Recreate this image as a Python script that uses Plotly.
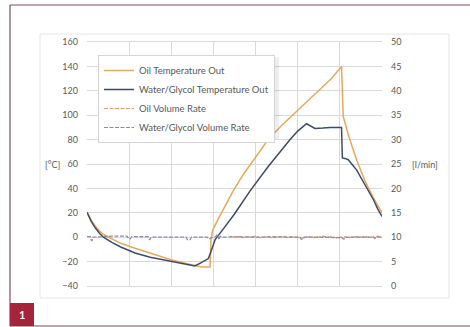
import plotly.graph_objects as go

# ---------------- data (x in grid-cell units, 0..7) ----------------
oil_temp_x = [0, 0.1, 0.2, 0.3, 0.4, 0.51, 0.8, 1.14, 1.5, 2.01, 2.4, 2.6, 2.72, 2.92,
              2.94, 2.97, 3.0, 3.1, 3.25, 3.47, 3.7, 4.0, 4.3, 4.6, 5.0, 5.5, 5.8, 6.04,
              6.08, 6.2, 6.4, 6.6, 6.8, 7.0]
oil_temp_y = [20.5, 14, 9, 5, 2, 0, -5, -9, -13, -18.7, -22, -23.5, -24.5, -24.5,
              -3, 4, 7, 14, 24, 38, 51, 66, 80, 91, 104, 120, 130, 140,
              99, 84, 63, 46, 32, 20]

wg_temp_x = [0, 0.1, 0.2, 0.3, 0.39, 0.6, 0.8, 1.14, 1.5, 2.01, 2.3, 2.56, 2.7, 2.88,
             2.93, 3.04, 3.24, 3.5, 3.87, 4.3, 4.82, 5.0, 5.21, 5.3, 5.41, 5.6, 5.77,
             6.04, 6.06, 6.12, 6.2, 6.4, 6.6, 6.8, 6.9, 7.0]
wg_temp_y = [20.5, 13, 7.5, 3, 0, -4.5, -8, -13, -16.5, -20, -22, -23.6, -21, -17.5,
             -13, -2, 7, 19, 38, 58, 80, 87, 93, 91, 89.2, 89.5, 90,
             90, 65, 64.6, 63.5, 55, 43, 30.5, 23, 17]

wg_rate_x = [0, 0.08, 0.1, 0.12, 0.14, 0.3, 0.6, 0.95, 1.0, 1.03, 1.06, 1.45, 1.48, 1.5,
             1.52, 1.9, 2.35, 2.38, 2.45, 2.48, 2.85, 2.9, 2.95, 3.05, 3.1, 3.13, 3.16,
             3.2, 3.6, 4.0, 4.5, 5.05, 5.08, 5.12, 5.15, 5.5, 6.05, 6.08, 6.12, 6.15,
             6.5, 6.8, 6.83, 6.86, 7.0]
wg_rate_y = [10.1, 10.1, 9.4, 9.3, 10.0, 10.1, 10.2, 10.2, 9.6, 9.7, 10.1, 10.1, 9.5, 9.6,
             10.0, 10.0, 10.0, 9.5, 9.5, 10.0, 10.0, 9.6, 9.9, 10.1, 10.6, 9.5, 10.2,
             10.0, 10.1, 10.0, 10.1, 10.0, 9.6, 9.6, 10.0, 10.0, 9.9, 9.6, 9.7, 10.0,
             10.0, 10.0, 9.7, 10.0, 10.0]

oil_rate_x = [3.4, 3.5, 3.6, 3.7, 3.8, 3.9, 4.0, 4.1, 4.2, 4.3, 4.4, 4.5, 4.6, 4.7, 4.8,
              4.9, 5.0, 5.1, 5.2, 5.3, 5.4, 5.5, 5.6, 5.7, 5.8, 5.9, 6.0, 6.1, 6.2,
              6.3, 6.4, 6.5, 6.6, 6.7, 6.8, 6.9, 7.0]
oil_rate_y = [10.2, 10.0, 10.1, 9.9, 10.1, 10.0, 10.2, 9.9, 10.0, 10.1, 9.9, 10.0, 10.1,
              10.0, 9.9, 10.1, 10.0, 9.8, 10.0, 10.1, 9.9, 10.0, 10.2, 10.0, 10.1, 9.9,
              10.0, 10.1, 9.9, 10.0, 10.1, 10.0, 10.2, 9.9, 10.1, 10.2, 10.0]

# ---------------- layout helpers ----------------
W, H = 470, 327
L, R, T, B = 87, 382, 42, 286          # plot area in pixels


def px(xp):
    return (xp - L) / (R - L)


def py(yp):
    return (B - yp) / (B - T)


FONT = "Lato, Open Sans, sans-serif"
TXT = "#595959"
GRID = "#D9D9D9"

fig = go.Figure()
fig.add_trace(go.Scatter(x=oil_temp_x, y=oil_temp_y, name="Oil Temperature Out",
                         mode="lines", line=dict(color="#E4A95E", width=1.5)))
fig.add_trace(go.Scatter(x=wg_temp_x, y=wg_temp_y, name="Water/Glycol Temperature Out",
                         mode="lines", line=dict(color="#3E4A66", width=1.5)))
fig.add_trace(go.Scatter(x=oil_rate_x, y=oil_rate_y, name="Oil Volume Rate", yaxis="y2",
                         mode="lines", line=dict(color="#E29A6C", width=1.2, dash="4px,1.5px")))
fig.add_trace(go.Scatter(x=wg_rate_x, y=wg_rate_y, name="Water/Glycol Volume Rate", yaxis="y2",
                         mode="lines", line=dict(color="#8A8CA0", width=1.2, dash="4px,1.5px")))

shapes = [
    # light inner chart box
    dict(type="rect", xref="paper", yref="paper", x0=px(40), x1=px(449), y0=py(298), y1=py(34),
         line=dict(color="#E6E6E6", width=1), fillcolor="rgba(0,0,0,0)", layer="below"),
    # outer frame
    dict(type="line", xref="paper", yref="paper", x0=px(10), x1=px(10), y0=py(326), y1=py(5),
         line=dict(color="#7A5060", width=1.2)),
    dict(type="line", xref="paper", yref="paper", x0=px(10), x1=px(471), y0=py(5), y1=py(5),
         line=dict(color="#7A5060", width=1.2)),
    dict(type="line", xref="paper", yref="paper", x0=px(10), x1=px(471), y0=py(326), y1=py(326),
         line=dict(color="#7A5060", width=1.2)),
    # red label box
    dict(type="rect", xref="paper", yref="paper", x0=px(10), x1=px(34), y0=py(326), y1=py(303),
         line=dict(width=0), fillcolor="#A3243B"),
    # legend shadow
    dict(type="rect", xref="paper", yref="paper", x0=px(100), x1=px(279), y0=py(139), y1=py(57),
         line=dict(width=0), fillcolor="rgba(0,0,0,0.07)", layer="above"),
]

annotations = [
    dict(text="[°C]", xref="paper", yref="paper", x=px(52), y=py(164), showarrow=False,
         xanchor="center", yanchor="middle", font=dict(size=9, color=TXT, family=FONT)),
    dict(text="[l/min]", xref="paper", yref="paper", x=px(425), y=py(164), showarrow=False,
         xanchor="center", yanchor="middle", font=dict(size=9, color=TXT, family=FONT)),
    dict(text="<b>1</b>", xref="paper", yref="paper", x=px(22), y=py(314.5), showarrow=False,
         xanchor="center", yanchor="middle", font=dict(size=11, color="white", family=FONT)),
]

fig.update_layout(
    width=W, height=H,
    margin=dict(l=L, r=W - R, t=T, b=H - B, pad=0),
    paper_bgcolor="white", plot_bgcolor="white",
    font=dict(family=FONT, size=9, color=TXT),
    showlegend=True,
    legend=dict(x=px(98), y=py(55), xanchor="left", yanchor="top",
                bgcolor="white", bordercolor="#D4D4D4", borderwidth=1,
                font=dict(size=9.5, color=TXT, family=FONT), itemwidth=30,
                tracegroupgap=0),
    xaxis=dict(range=[0, 7], dtick=1, showticklabels=False, showgrid=True, gridcolor=GRID,
               zeroline=False, showline=True, mirror=True, linecolor=GRID, ticks=""),
    yaxis=dict(range=[-40, 160], dtick=20, showgrid=True, gridcolor=GRID, zeroline=False,
               ticks="", ticklabelstandoff=8, tickfont=dict(size=9, color=TXT)),
    yaxis2=dict(range=[0, 50], dtick=5, overlaying="y", side="right", showgrid=False,
                zeroline=False, ticks="", ticklabelstandoff=8, tickfont=dict(size=9, color=TXT)),
    shapes=shapes,
    annotations=annotations,
)

fig.write_html("out.html",
               config={"displayModeBar": False},
               post_script="document.body.style.margin='0px';"
                           "document.body.style.overflow='hidden';")
